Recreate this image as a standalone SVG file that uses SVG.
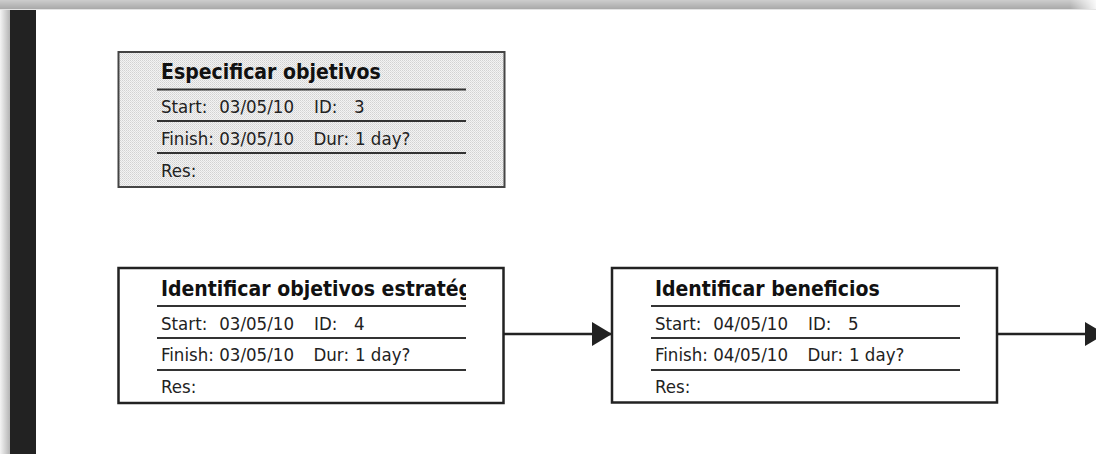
<svg xmlns="http://www.w3.org/2000/svg" width="1096" height="454" viewBox="0 0 1096 454">
  <defs>
    <linearGradient id="topBand" x1="0" y1="0" x2="0" y2="1">
      <stop offset="0" stop-color="#cdcdcd"/>
      <stop offset="1" stop-color="#a9a9a9"/>
    </linearGradient>
    <linearGradient id="topFade" x1="0" y1="0" x2="1" y2="0">
      <stop offset="0" stop-color="#fff" stop-opacity="0"/>
      <stop offset="1" stop-color="#fff" stop-opacity="0.9"/>
    </linearGradient>
    <linearGradient id="leftShade" x1="0" y1="0" x2="1" y2="0">
      <stop offset="0" stop-color="#f4f4f4"/>
      <stop offset="1" stop-color="#b4b4b4"/>
    </linearGradient>
    <pattern id="dots" width="2" height="2" patternUnits="userSpaceOnUse">
      <rect width="2" height="2" fill="#f3f3f3"/>
      <rect width="1" height="1" fill="#d2d2d2"/>
      <rect x="1" y="1" width="1" height="1" fill="#dedede"/>
    </pattern>
    <clipPath id="clip4">
      <rect x="150" y="270" width="316" height="36"/>
    </clipPath>
    <marker id="arrow" viewBox="0 0 20 24" refX="20" refY="12" markerWidth="20" markerHeight="24" markerUnits="userSpaceOnUse" orient="auto">
      <path d="M0,0 L20,12 L0,24 Z" fill="#222"/>
    </marker>
  </defs>
  <style>
    .box { fill: #fff; stroke: #222; stroke-width: 2.5; }
    .box.summary { fill: url(#dots); stroke: #444; stroke-width: 2; }
    .rule { stroke: #333; stroke-width: 2; }
    .title { font-family: "DejaVu Sans Condensed", "DejaVu Sans", sans-serif; font-stretch: condensed; font-weight: bold; font-size: 21px; fill: #111; }
    .f { font-family: "DejaVu Sans Condensed", "DejaVu Sans", sans-serif; font-stretch: condensed; font-size: 18.5px; fill: #222; }
    .end { text-anchor: end; }
    .link { stroke: #222; stroke-width: 2.5; fill: none; }
  </style>

  <!-- page frame -->
  <rect x="0" y="0" width="1096" height="454" fill="#fff"/>
  <rect x="0" y="0" width="1096" height="9" fill="url(#topBand)"/>
  <rect x="1070" y="0" width="26" height="9" fill="url(#topFade)"/>
  <line x1="0" y1="9.5" x2="1096" y2="9.5" stroke="#e4e4e4" stroke-width="1"/>
  <rect x="0" y="10" width="10" height="444" fill="url(#leftShade)"/>
  <rect x="10" y="10" width="26" height="444" fill="#222"/>

  <!-- task 3 -->
  <g id="task3">
    <rect class="box summary" x="118.5" y="52" width="386" height="135"/>
    <text class="title" x="161" y="79">Especificar objetivos</text>
    <line class="rule" x1="157" y1="89.5" x2="466" y2="89.5"/>
    <text class="f" x="161" y="113">Start:</text>
    <text class="f end" x="294" y="113">03/05/10</text>
    <text class="f" x="314" y="113">ID:</text>
    <text class="f" x="354" y="113">3</text>
    <line class="rule" x1="157" y1="121" x2="466" y2="121"/>
    <text class="f" x="161" y="145">Finish:</text>
    <text class="f end" x="294" y="145">03/05/10</text>
    <text class="f" x="313.5" y="145">Dur:</text>
    <text class="f" x="355" y="145">1 day?</text>
    <line class="rule" x1="157" y1="153" x2="466" y2="153"/>
    <text class="f" x="161" y="177">Res:</text>
  </g>

  <!-- task 4 -->
  <g id="task4">
    <rect class="box" x="118.5" y="268" width="385" height="135"/>
    <text class="title" x="161" y="296" clip-path="url(#clip4)">Identificar objetivos estratégicos</text>
    <line class="rule" x1="157" y1="306" x2="466" y2="306"/>
    <text class="f" x="161" y="330">Start:</text>
    <text class="f end" x="294" y="330">03/05/10</text>
    <text class="f" x="314" y="330">ID:</text>
    <text class="f" x="354" y="330">4</text>
    <line class="rule" x1="157" y1="338" x2="466" y2="338"/>
    <text class="f" x="161" y="361">Finish:</text>
    <text class="f end" x="294" y="361">03/05/10</text>
    <text class="f" x="313.5" y="361">Dur:</text>
    <text class="f" x="355" y="361">1 day?</text>
    <line class="rule" x1="157" y1="370" x2="466" y2="370"/>
    <text class="f" x="161" y="393">Res:</text>
  </g>

  <!-- task 5 -->
  <g id="task5">
    <rect class="box" x="612" y="268" width="385" height="134.5"/>
    <text class="title" x="655" y="296">Identificar beneficios</text>
    <line class="rule" x1="651" y1="306" x2="960" y2="306"/>
    <text class="f" x="655" y="330">Start:</text>
    <text class="f end" x="788" y="330">04/05/10</text>
    <text class="f" x="808" y="330">ID:</text>
    <text class="f" x="848" y="330">5</text>
    <line class="rule" x1="651" y1="338" x2="960" y2="338"/>
    <text class="f" x="655" y="361">Finish:</text>
    <text class="f end" x="788" y="361">04/05/10</text>
    <text class="f" x="807.5" y="361">Dur:</text>
    <text class="f" x="849" y="361">1 day?</text>
    <line class="rule" x1="651" y1="370" x2="960" y2="370"/>
    <text class="f" x="655" y="393">Res:</text>
  </g>

  <!-- dependency links -->
  <g id="links">
    <line class="link" x1="503.5" y1="334" x2="612" y2="334" marker-end="url(#arrow)"/>
    <line class="link" x1="997" y1="334" x2="1105" y2="334" marker-end="url(#arrow)"/>
  </g>
</svg>
